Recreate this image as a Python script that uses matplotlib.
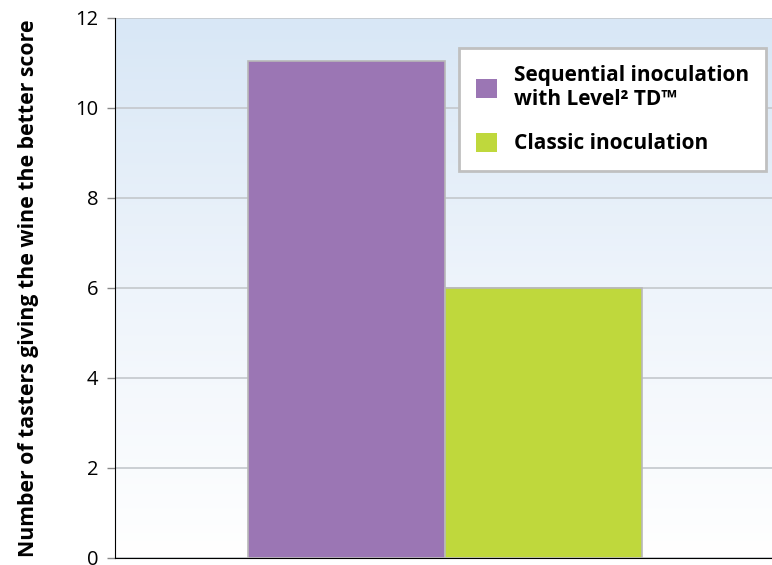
import matplotlib
matplotlib.use("Agg")
import matplotlib.pyplot as plt
import numpy as np
from matplotlib.patches import Patch
from matplotlib.colors import LinearSegmentedColormap

series = ["Sequential inoculation\nwith Level² TD™", "Classic inoculation"]
values = [11.05, 6.0]
colors = ["#9b76b4", "#bfd83c"]
yticks = [0, 2, 4, 6, 8, 10, 12]
ylabel = "Number of tasters giving the wine the better score"

plt.rcParams['font.family'] = ['Open Sans', 'DejaVu Sans']

fig = plt.figure(figsize=(7.72, 5.65), dpi=100)
ax = fig.add_axes([0.149, 0.0124, 0.851, 0.9558])

ax.set_xlim(-1.175, 2.16)
ax.set_ylim(0, 12)

# gradient background
grad = np.linspace(0, 1, 256).reshape(-1, 1)
cmap = LinearSegmentedColormap.from_list("bg", ["#ffffff", "#eef4fb", "#d8e7f6"])
ax.imshow(grad, cmap=cmap, aspect="auto", extent=[0, 1, 0, 1], origin="lower",
          transform=ax.transAxes, zorder=0)

ax.set_yticks(yticks)
ax.yaxis.grid(True, color="#c4c8cc", linewidth=1.2, zorder=1)
ax.set_axisbelow(True)

ax.bar([0, 1], values, width=1.0, color=colors, edgecolor="#b8b8b8",
       linewidth=1.2, zorder=3)

for s in ["top", "right"]:
    ax.spines[s].set_visible(False)
ax.spines["left"].set_color("black")
ax.spines["bottom"].set_color("black")
ax.set_xticks([])
ax.tick_params(axis="y", length=6, width=1, color="#888888", labelsize=14.5, pad=6)

ax.set_ylabel(ylabel, fontsize=15.3, fontweight="bold")
ax.yaxis.set_label_coords(-0.115, 0.5)

handles = [Patch(facecolor=c, edgecolor="none") for c in colors]
leg = ax.legend(handles, series, loc="upper right", bbox_to_anchor=(0.991, 0.944),
                borderaxespad=0,
                prop={"weight": "bold", "size": 15}, frameon=True,
                fancybox=False, edgecolor="#c0c0c0", framealpha=1,
                handlelength=1.0, handleheight=1.0, borderpad=0.8, labelspacing=1.1,
                handletextpad=0.85)
leg.get_frame().set_linewidth(2)
leg.set_zorder(5)

fig.savefig("out.png", dpi=100)
